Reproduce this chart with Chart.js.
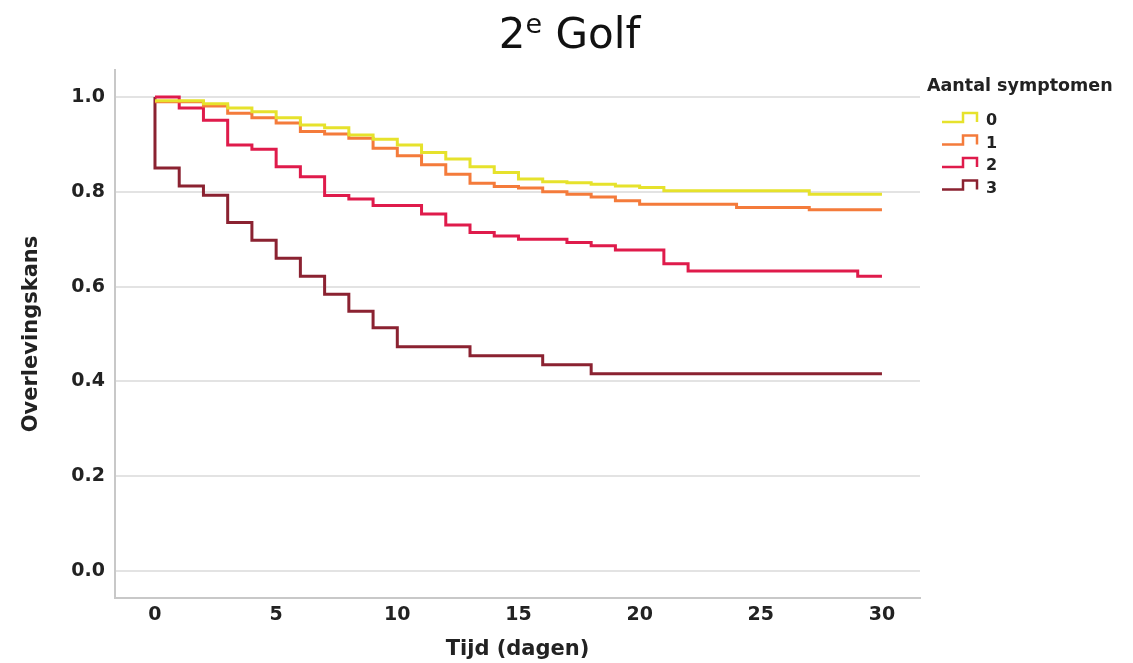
<!DOCTYPE html>
<html>
<head>
<meta charset="utf-8">
<script src="https://cdn.jsdelivr.net/npm/chart.js@4.4.1/dist/chart.umd.min.js"></script>
<style>
  body { margin: 0; background: #fff; }
  #wrap { width: 1133px; height: 663px; }
</style>
</head>
<body>
<div id="wrap"><canvas id="kmChart" width="1133" height="663"></canvas></div>
<script>
// Kaplan-Meier curves, 2nd wave, per number of symptoms
const groupLabels = ['0', '1', '2', '3'];
const groupColors = ['#e6e22c', '#f47b3b', '#df1b4b', '#8b2231'];

// day of each step and survival from that day on (last entry = end of follow-up)
const days0 = [0, 2, 3, 4, 5, 6, 7, 8, 9, 10, 11, 12, 13, 14, 15, 16, 17, 18, 19, 20, 21, 27, 30];
const surv0 = [0.992, 0.986, 0.977, 0.969, 0.956, 0.941, 0.935, 0.920, 0.911, 0.899, 0.883, 0.869, 0.853, 0.841, 0.827, 0.821, 0.819, 0.816, 0.812, 0.809, 0.802, 0.795, 0.795];

const days1 = [0, 2, 3, 4, 5, 6, 7, 8, 9, 10, 11, 12, 13, 14, 15, 16, 17, 18, 19, 20, 24, 27, 30];
const surv1 = [0.990, 0.981, 0.966, 0.956, 0.945, 0.927, 0.922, 0.913, 0.892, 0.876, 0.857, 0.837, 0.818, 0.811, 0.808, 0.800, 0.795, 0.789, 0.781, 0.774, 0.767, 0.762, 0.762];

const days2 = [0, 1, 2, 3, 4, 5, 6, 7, 8, 9, 11, 12, 13, 14, 15, 17, 18, 19, 21, 22, 29, 30];
const surv2 = [1.000, 0.977, 0.951, 0.899, 0.890, 0.853, 0.832, 0.792, 0.785, 0.771, 0.753, 0.730, 0.714, 0.707, 0.700, 0.693, 0.686, 0.677, 0.648, 0.633, 0.622, 0.622];

const days3 = [0, 0, 1, 2, 3, 4, 5, 6, 7, 8, 9, 10, 13, 16, 18, 30];
const surv3 = [1.000, 0.850, 0.812, 0.793, 0.735, 0.698, 0.660, 0.622, 0.584, 0.548, 0.513, 0.473, 0.454, 0.435, 0.416, 0.416];

const xTicks = [0, 5, 10, 15, 20, 25, 30];
const yTicks = [0, 0.2, 0.4, 0.6, 0.8, 1.0];

const titleMain = '2';
const titleSup = 'e';
const titleRest = ' Golf';
const legendTitle = 'Aantal symptomen';
const xTitle = 'Tijd (dagen)';
const yTitle = 'Overlevingskans';

const allDays = [days0, days1, days2, days3];
const allSurv = [surv0, surv1, surv2, surv3];

function toPoints(days, surv) {
  return days.map((d, i) => ({ x: d, y: surv[i] }));
}

Chart.defaults.font.family = '"DejaVu Sans", sans-serif';
Chart.defaults.color = '#222';

// title with superscript
const titlePlugin = {
  id: 'superTitle',
  afterDraw(chart) {
    const ctx = chart.ctx;
    ctx.save();
    ctx.fillStyle = '#111';
    ctx.textBaseline = 'alphabetic';
    ctx.textAlign = 'left';
    const big = '42px "DejaVu Sans"';
    const small = '27px "DejaVu Sans"';
    ctx.font = big;
    const wMain = ctx.measureText(titleMain).width;
    const wRest = ctx.measureText(titleRest).width;
    ctx.font = small;
    const wSup = ctx.measureText(titleSup).width;
    let x = chart.width / 2 + 3 - (wMain + wSup + wRest) / 2;
    ctx.font = big;
    ctx.fillText(titleMain, x, 48);
    x += wMain;
    ctx.font = small;
    ctx.fillText(titleSup, x, 33);
    x += wSup;
    ctx.font = big;
    ctx.fillText(titleRest, x, 48);
    ctx.restore();
  }
};

// legend with step-shaped icons, to the right of the plot
const legendPlugin = {
  id: 'stepLegend',
  afterDraw(chart) {
    const ctx = chart.ctx;
    const right = chart.chartArea.right;
    ctx.save();
    ctx.fillStyle = '#222';
    ctx.textBaseline = 'middle';
    ctx.textAlign = 'left';
    ctx.font = 'bold 17.5px "DejaVu Sans"';
    ctx.fillText(legendTitle, right + 7, 86);
    ctx.font = 'bold 16px "DejaVu Sans"';
    chart.data.datasets.forEach((ds, i) => {
      const cy = 121 + i * 22.5;
      const x0 = right + 22;
      ctx.strokeStyle = ds.borderColor;
      ctx.lineWidth = 2.5;
      ctx.beginPath();
      ctx.moveTo(x0, cy + 1);
      ctx.lineTo(x0 + 21, cy + 1);
      ctx.lineTo(x0 + 21, cy - 8);
      ctx.lineTo(x0 + 35, cy - 8);
      ctx.lineTo(x0 + 35, cy + 1);
      ctx.stroke();
      ctx.fillText(ds.label, right + 66, cy);
    });
    ctx.restore();
  }
};

const ctx = document.getElementById('kmChart');
new Chart(ctx, {
  type: 'line',
  data: {
    datasets: groupLabels.map((label, i) => ({
      label: label,
      data: toPoints(allDays[i], allSurv[i]),
      borderColor: groupColors[i],
      backgroundColor: groupColors[i],
      borderWidth: 3,
      stepped: true,
      pointRadius: 0,
      fill: false,
    }))
  },
  options: {
    responsive: false,
    animation: false,
    layout: {
      padding: { top: 70, right: 213, bottom: 0, left: 0 }
    },
    plugins: {
      legend: { display: false },
      tooltip: { enabled: false },
      title: { display: false }
    },
    scales: {
      x: {
        type: 'linear',
        min: -1.65,
        max: 31.57,
        afterBuildTicks: (scale) => { scale.ticks = xTicks.map(v => ({ value: v })); },
        afterFit: (scale) => { scale.height = 65; },
        grid: { display: false, drawTicks: false },
        border: { display: true, color: '#c8c8c8', width: 2 },
        ticks: {
          padding: 6,
          color: '#222',
          font: { size: 19, weight: 'bold' }
        },
        title: {
          display: true,
          text: xTitle,
          color: '#222',
          font: { size: 21, weight: 'bold' },
          padding: { top: 0, bottom: 1 }
        }
      },
      y: {
        type: 'linear',
        min: -0.057,
        max: 1.057,
        afterBuildTicks: (scale) => { scale.ticks = yTicks.map(v => ({ value: v })); },
        afterFit: (scale) => { scale.width = 115; },
        grid: { color: '#e3e3e3', lineWidth: 2, drawTicks: false },
        border: { display: true, color: '#c8c8c8', width: 2 },
        ticks: {
          padding: 10,
          color: '#222',
          font: { size: 19, weight: 'bold' },
          callback: (v) => v.toFixed(1)
        },
        title: {
          display: true,
          text: yTitle,
          color: '#222',
          font: { size: 21, weight: 'bold' },
          padding: { top: 19, bottom: 0 }
        }
      }
    }
  },
  plugins: [titlePlugin, legendPlugin]
});
</script>
</body>
</html>
